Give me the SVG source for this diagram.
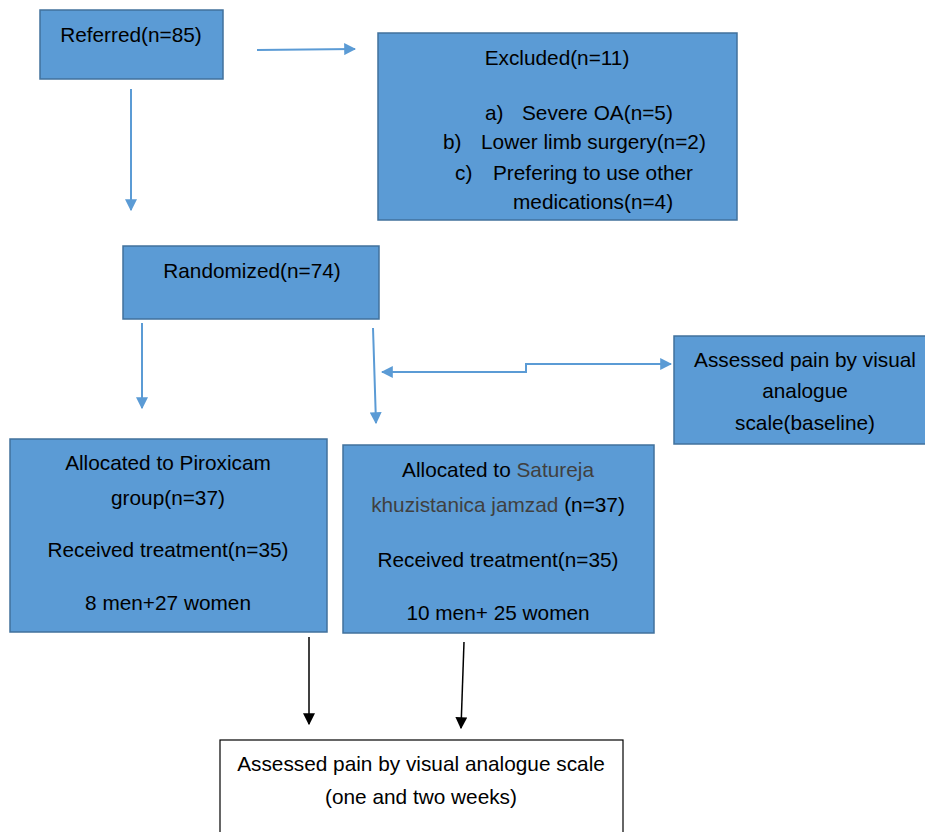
<svg xmlns="http://www.w3.org/2000/svg" width="925" height="832" viewBox="0 0 925 832">
<defs>
<style>
.box{fill:#5B9BD5;stroke:#41719C;stroke-width:1.5}
.wbox{fill:#fff;stroke:#000;stroke-width:1.2}
text{font-family:"Liberation Sans",Arial,sans-serif;font-size:20.8px;fill:#000}
.c{text-anchor:middle}
.gray{fill:#404040}
.bl{fill:none;stroke:#5B9BD5;stroke-width:2}
.bk{fill:none;stroke:#000;stroke-width:1.5}
</style>
<marker id="ab" viewBox="0 0 10 10" refX="9" refY="5" markerWidth="12" markerHeight="12" markerUnits="userSpaceOnUse" orient="auto-start-reverse"><path d="M0,0 L10,5 L0,10 z" fill="#5B9BD5"/></marker>
<marker id="ak" viewBox="0 0 10 10" refX="9" refY="5" markerWidth="12" markerHeight="12" markerUnits="userSpaceOnUse" orient="auto"><path d="M0,0 L10,5 L0,10 z" fill="#000"/></marker>
</defs>
<rect width="925" height="832" fill="#fff"/>
<g id="connectors">
<path class="bl" d="M257,50 L355,49" marker-end="url(#ab)"/>
<path class="bl" d="M131,89 L131,210" marker-end="url(#ab)"/>
<path class="bl" d="M142,323 L142,408" marker-end="url(#ab)"/>
<path class="bl" d="M373,328 L376,423" marker-end="url(#ab)"/>
<path class="bl" d="M382,372 L526,372 L526,364 L671,364" marker-start="url(#ab)" marker-end="url(#ab)"/>
<path class="bk" d="M309,637 L309,724" marker-end="url(#ak)"/>
<path class="bk" d="M464,642 L461,728" marker-end="url(#ak)"/>
</g>
<g id="referred">
<rect class="box" x="40" y="10" width="183" height="69"/>
<text class="c" x="131" y="42">Referred(n=85)</text>
</g>
<g id="excluded">
<rect class="box" x="378" y="33" width="359" height="187"/>
<text class="c" x="557" y="65">Excluded(n=11)</text>
<text x="485" y="120">a)</text><text x="522" y="120">Severe OA(n=5)</text>
<text x="443" y="149">b)</text><text x="481" y="149">Lower limb surgery(n=2)</text>
<text x="455" y="180">c)</text><text x="493" y="180">Prefering to use other</text>
<text x="513" y="209">medications(n=4)</text>
</g>
<g id="randomized">
<rect class="box" x="123" y="246" width="256" height="73"/>
<text class="c" x="252" y="278">Randomized(n=74)</text>
</g>
<g id="baseline">
<rect class="box" x="674" y="336" width="260" height="108"/>
<text class="c" x="805" y="367">Assessed pain by visual</text>
<text class="c" x="805" y="398">analogue</text>
<text class="c" x="805" y="430">scale(baseline)</text>
</g>
<g id="piroxicam">
<rect class="box" x="10" y="439" width="317" height="193"/>
<text class="c" x="168" y="470">Allocated to Piroxicam</text>
<text class="c" x="168" y="505">group(n=37)</text>
<text class="c" x="168" y="557">Received treatment(n=35)</text>
<text class="c" x="168" y="610">8 men+27 women</text>
</g>
<g id="satureja">
<rect class="box" x="343" y="445" width="311" height="188"/>
<text class="c" x="498" y="477">Allocated to <tspan class="gray">Satureja</tspan></text>
<text class="c" x="498" y="512"><tspan class="gray">khuzistanica jamzad</tspan> (n=37)</text>
<text class="c" x="498" y="567">Received treatment(n=35)</text>
<text class="c" x="498" y="620">10 men+ 25 women</text>
</g>
<g id="followup">
<rect class="wbox" x="220" y="740" width="403" height="100"/>
<text class="c" x="421" y="771">Assessed pain by visual analogue scale</text>
<text class="c" x="421" y="804">(one and two weeks)</text>
</g>
</svg>
